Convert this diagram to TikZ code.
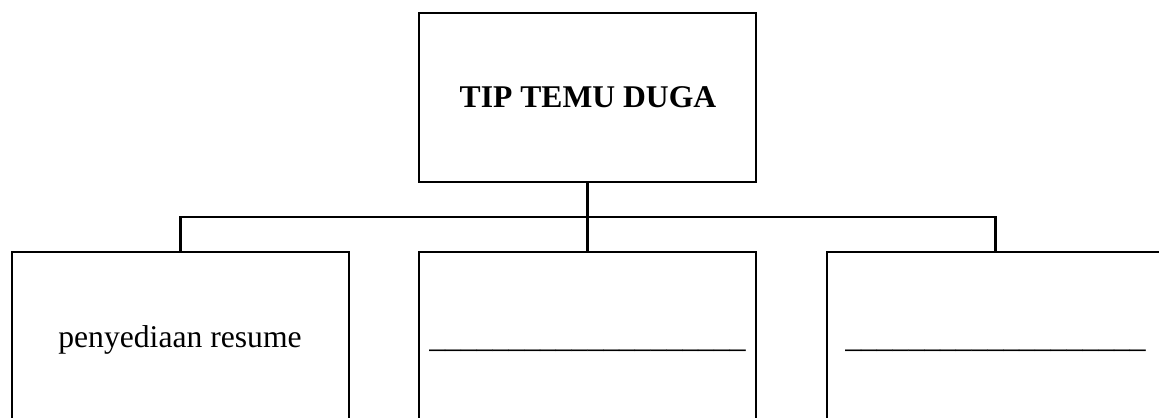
\documentclass[tikz,border=0pt]{standalone}
\usepackage{fontspec}
\setmainfont{Liberation Serif}
\usetikzlibrary{positioning}
\tikzset{box/.style={draw, line width=1.6pt, minimum width=6.74cm, inner sep=0pt}}
\tikzset{lbl/.style={inner sep=0pt, anchor=base, font=\fontsize{18}{21}\selectfont}}

\begin{document}
\begin{tikzpicture}[x=0.02cm,y=-0.02cm,line width=1.6pt]
      \useasboundingbox (0,0) rectangle (1159,418);
      \clip (0,0) rectangle (1159,418);
      \node[box, minimum height=3.38cm] (tip) at (587.5,97.5) {};
      \node[box, minimum height=3.76cm] (left) at (180.5,346) {};
      \node[box, minimum height=3.76cm] (mid) at (587.5,346) {};
      \node[box, minimum height=3.76cm] (right) at (995.5,346) {};
      \coordinate (bus) at (587.5,217);
      \draw (tip.south) -- (mid.north);
      \draw (left.north) |- (bus) -| (right.north);
      \node[lbl, font=\fontsize{18}{21}\selectfont\bfseries] (title) at (588,108) {TIP TEMU DUGA};
      \node[lbl] (resume) at (180,348) {penyediaan resume};
      \node[lbl] (blank1) at (587.5,348) {\_\_\_\_\_\_\_\_\_\_\_\_\_\_\_\_\_\_\_\_};
      \node[lbl] (blank2) at (995.5,348) {\_\_\_\_\_\_\_\_\_\_\_\_\_\_\_\_\_\_\_};
    \end{tikzpicture}
\end{document}
